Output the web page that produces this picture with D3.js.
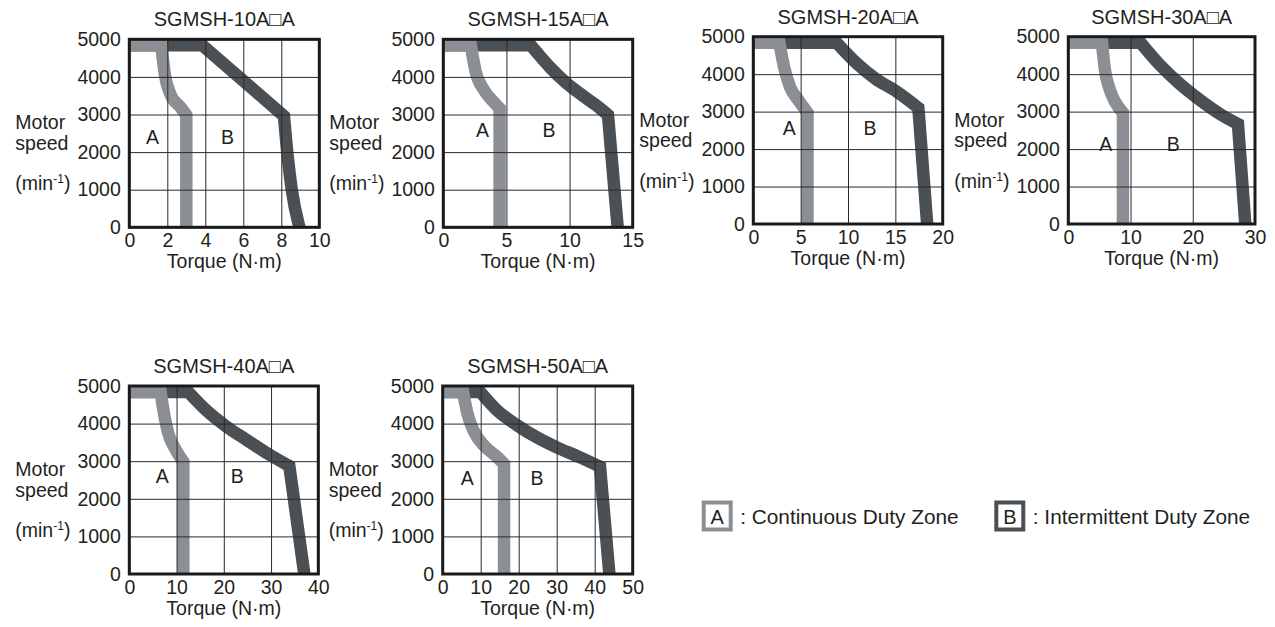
<!DOCTYPE html>
<html><head><meta charset="utf-8">
<script src="https://cdn.jsdelivr.net/npm/d3@7"></script>
<style>
body{margin:0;background:#fff;}
svg{display:block;}
text{font-family:"Liberation Sans",Arial,sans-serif;fill:#231f20;}
</style>
</head><body>
<svg id="c" width="1275" height="627"></svg>
<script>
// ---------- data ----------
const models = ["SGMSH-10A\u25A1A","SGMSH-15A\u25A1A","SGMSH-20A\u25A1A","SGMSH-30A\u25A1A","SGMSH-40A\u25A1A","SGMSH-50A\u25A1A"];
const torqueMax = [10, 15, 20, 30, 40, 50];
const torqueTicks = [[0,2,4,6,8,10],[0,5,10,15],[0,5,10,15,20],[0,10,20,30],[0,10,20,30,40],[0,10,20,30,40,50]];
const speedTicks = [0,1000,2000,3000,4000,5000];
const speedMax = 5000;

// centre lines of the duty-zone bands: [torque (N·m), speed (min-1)]
const zoneA = [
  [[0,4840],[1.68,4840],[1.89,4007],[2.18,3520],[2.67,3209],[3.0,2988],[3.0,0]],
  [[0,4840],[2.18,4840],[2.56,4140],[3.22,3652],[3.96,3342],[4.46,3165],[4.46,0]],
  [[0,4840],[2.75,4840],[3.24,4199],[3.87,3665],[4.75,3310],[5.72,2972],[5.72,0]],
  [[0,4840],[5.41,4840],[5.89,4110],[6.59,3621],[7.50,3265],[8.78,2972],[8.78,0]],
  [[0,4840],[6.63,4840],[7.34,4273],[8.25,3741],[9.66,3342],[11.43,2988],[11.43,0]],
  [[0,4840],[5.35,4840],[6.49,4273],[8.25,3785],[11.14,3387],[14.21,3121],[16.14,2926],[16.14,0]]
];
const zoneB = [
  [[0,4840],[3.84,4840],[8.14,2961],[8.32,1968],[8.54,1037],[8.95,0]],
  [[0,4840],[6.93,4840],[8.45,4255],[9.77,3830],[11.3,3440],[12.0,3270],[13.04,2988],[13.81,0]],
  [[0,4840],[8.80,4840],[10.92,4288],[12.85,3888],[15.14,3532],[17.43,3100],[18.36,0]],
  [[0,4840],[11.62,4840],[14.73,4244],[17.94,3737],[21.16,3310],[24.37,2936],[27.26,2669],[28.44,0]],
  [[0,4840],[12.49,4840],[16.37,4344],[20.6,3918],[24.83,3564],[29.42,3191],[33.86,2872],[37.04,0]],
  [[0,4840],[9.91,4840],[14.21,4362],[19.47,3963],[24.74,3635],[30.0,3369],[35.70,3121],[41.40,2855],[43.86,0]]
];
// indices of the sharp corners of each band (between them the band is smooth)
const cornersA = zoneA.map(p => [0, 1, p.length - 2, p.length - 1]);
const cornersB = [[0,1,2,5]].concat(zoneB.slice(1).map(p => [0, 1, p.length - 2, p.length - 1]));

const labelA = [[1.22,2410],[3.10,2589],[3.79,2553],[6.0,2135],[6.98,2615],[6.49,2562]];
const labelB = [[5.17,2410],[8.38,2589],[12.32,2553],[16.87,2135],[22.86,2615],[24.8,2562]];

const legendKeys = ["A","B"];
const legendLabels = [": Continuous Duty Zone", ": Intermittent Duty Zone"];

// ---------- layout / style ----------
const layout = [
  {x:129.3, y:39.3, w:190, h:188},
  {x:443.3, y:39.3, w:189.4, h:188},
  {x:753.3, y:36.7, w:189.4, h:187.3},
  {x:1068.3,y:36.7, w:186.7, h:187.3},
  {x:129.3, y:386,  w:189,   h:188},
  {x:442.7, y:386,  w:190,   h:188}
];
const LIGHT = "#8b8f94", DARK = "#4b5054", INK = "#231f20";
const BAND = 12.5, FS = 19.5;

const svg = d3.select("#c");
const smooth = d3.line().curve(d3.curveMonotoneX);

function bandPath(pts, corners, x, y) {
  const P = pts.map(d => [x(d[0]), y(d[1])]);
  let d = `M${P[0][0]},${P[0][1]}`;
  for (let k = 0; k < corners.length - 1; k++) {
    const seg = P.slice(corners[k], corners[k + 1] + 1);
    if (seg.length === 2) d += `L${seg[1][0]},${seg[1][1]}`;
    else d += smooth(seg).replace(/^M[^CL]*/, "");
  }
  return d;
}

models.forEach((m, i) => {
  const L = layout[i];
  const g = svg.append("g").attr("transform", `translate(${L.x},${L.y})`);
  const x = d3.scaleLinear().domain([0, torqueMax[i]]).range([0, L.w]);
  const y = d3.scaleLinear().domain([0, speedMax]).range([L.h, 0]);

  g.append("clipPath").attr("id", "clip" + i)
    .append("rect").attr("width", L.w).attr("height", L.h);
  const pg = g.append("g").attr("clip-path", `url(#clip${i})`);
  [[zoneB[i], cornersB[i], DARK], [zoneA[i], cornersA[i], LIGHT]].forEach(([pts, cs, col]) => {
    pg.append("path").attr("d", bandPath(pts, cs, x, y))
      .attr("fill", "none").attr("stroke", col).attr("stroke-width", BAND)
      .attr("stroke-linejoin", "miter").attr("stroke-miterlimit", 10)
      .attr("stroke-linecap", "square");
  });

  // zone letters
  [[labelA[i], "A"], [labelB[i], "B"]].forEach(([p, t]) => {
    g.append("text").attr("x", x(p[0])).attr("y", y(p[1]))
      .attr("text-anchor", "middle").attr("dominant-baseline", "central")
      .attr("font-size", FS).text(t);
  });

  // axes with grid lines
  const xa = g.append("g").attr("transform", `translate(0,${L.h})`)
    .call(d3.axisBottom(x).tickValues(torqueTicks[i]).tickSize(-L.h).tickPadding(5.7).tickFormat(d3.format("d")));
  const ya = g.append("g")
    .call(d3.axisLeft(y).tickValues(speedTicks).tickSize(-L.w).tickPadding(8.5).tickFormat(d3.format("d")));
  [xa, ya].forEach(a => {
    a.select(".domain").remove();
    a.selectAll(".tick line").attr("stroke", "#2a2a2a").attr("stroke-width", 1);
    a.selectAll(".tick text").attr("font-size", FS).attr("fill", INK)
      .style("font-family", '"Liberation Sans",Arial,sans-serif');
  });

  // frame
  g.append("rect").attr("width", L.w).attr("height", L.h)
    .attr("fill", "none").attr("stroke", "#1a1a1a").attr("stroke-width", 3);

  // title
  g.append("text").attr("x", L.w / 2).attr("y", -13).attr("text-anchor", "middle")
    .attr("font-size", 20).text(m);
  // x title
  g.append("text").attr("x", L.w / 2).attr("y", L.h + 41).attr("text-anchor", "middle")
    .attr("font-size", FS).text("Torque (N\u00B7m)");
  // y title
  g.append("text").attr("x", -114).attr("y", 90).attr("font-size", FS).text("Motor");
  g.append("text").attr("x", -114).attr("y", 110.5).attr("font-size", FS).text("speed");
  const u = g.append("text").attr("x", -114).attr("y", 151).attr("font-size", FS);
  u.append("tspan").text("(min");
  u.append("tspan").attr("font-size", 12).attr("dy", -7).text("-1");
  u.append("tspan").attr("dy", 7).text(")");
});

// legend
const legendX = [701.7, 994.3];
const legendCols = [LIGHT, DARK];
legendKeys.forEach((k, j) => {
  const lg = svg.append("g").attr("transform", `translate(${legendX[j]},500.5)`);
  lg.append("rect").attr("x", 2).attr("y", 2).attr("width", 27).attr("height", 27)
    .attr("fill", "#fff").attr("stroke", legendCols[j]).attr("stroke-width", 4);
  lg.append("text").attr("x", 15.5).attr("y", 23).attr("text-anchor", "middle")
    .attr("font-size", 20).text(k);
  lg.append("text").attr("x", 38.5).attr("y", 23).attr("font-size", 20.8).text(legendLabels[j]);
});
</script>
</body></html>
